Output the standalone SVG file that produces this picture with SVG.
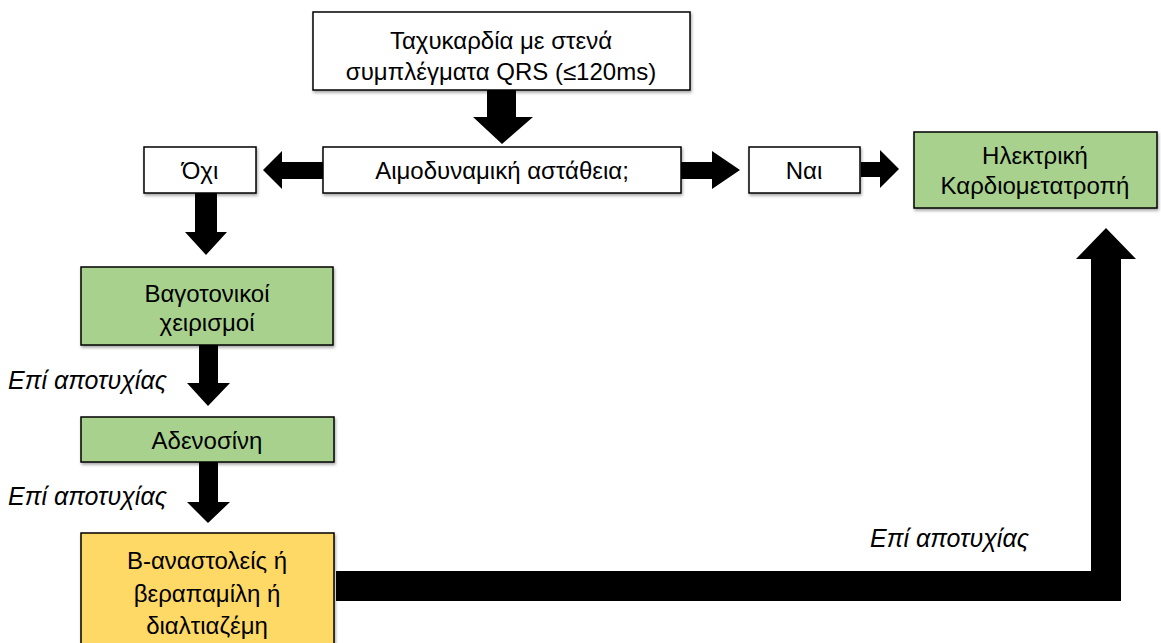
<svg xmlns="http://www.w3.org/2000/svg" width="1161" height="643" viewBox="0 0 1161 643">
<style>
.box{stroke:#000;stroke-width:1.5;filter:url(#sh)}
.w{fill:#fff}.g{fill:#a9d18e}.y{fill:#ffd966}
text{font-family:"Liberation Sans",Arial,sans-serif;font-size:24px;fill:#000;text-anchor:middle;dominant-baseline:central}
.it{font-style:italic;text-anchor:start;font-size:25px}
.arr{fill:#000}
</style>
<defs>
<filter id="sh" x="-10%" y="-10%" width="120%" height="130%">
<feDropShadow dx="1" dy="2" stdDeviation="1.5" flood-color="#000" flood-opacity="0.35"/>
</filter>
</defs>
<rect width="1161" height="643" fill="#fff"/>
<g id="connectors">
<polygon class="arr" points="487,90 516,90 516,117 533,117 502,144 473,117 487,117"/>
<polygon class="arr" points="323,162 282,162 282,151 263,170 282,189 282,179 323,179"/>
<polygon class="arr" points="681,162 712,162 712,151 740,170 712,189 712,179 681,179"/>
<polygon class="arr" points="861,162 880,162 880,150 899,169 880,188 880,177 861,177"/>
<polygon class="arr" points="195,193 217,193 217,232 227,232 206,255 185,232 195,232"/>
<polygon class="arr" points="199,345 218,345 218,383 230,383 208,406 187,383 199,383"/>
<polygon class="arr" points="199,462 218,462 218,502 230,502 208,523 187,502 199,502"/>
<polygon class="arr" points="336,571 1091,571 1091,259 1076,259 1106,228 1136,259 1121,259 1121,601 336,601"/>
<text class="it" x="8" y="380">Επί αποτυχίας</text>
<text class="it" x="8" y="496">Επί αποτυχίας</text>
<text class="it" x="870" y="538">Επί αποτυχίας</text>
</g>
<g id="n-tachy"><rect class="box w" x="313" y="12" width="377" height="78"/>
<text x="501" y="40">Ταχυκαρδία με στενά</text><text x="501" y="71">συμπλέγματα QRS (≤120ms)</text></g>
<g id="n-aimo"><rect class="box w" x="323" y="147" width="358" height="46"/><text x="502" y="170">Αιμοδυναμική αστάθεια;</text></g>
<g id="n-oxi"><rect class="box w" x="144" y="147" width="112" height="46"/><text x="200" y="170">Όχι</text></g>
<g id="n-nai"><rect class="box w" x="749" y="147" width="111" height="46"/><text x="804" y="170">Ναι</text></g>
<g id="n-ilek"><rect class="box g" x="914" y="132" width="243" height="76"/>
<text x="1035" y="155">Ηλεκτρική</text><text x="1035" y="185">Καρδιομετατροπή</text></g>
<g id="n-vago"><rect class="box g" x="81" y="267" width="252" height="78"/>
<text x="207" y="293">Βαγοτονικοί</text><text x="207" y="322">χειρισμοί</text></g>
<g id="n-aden"><rect class="box g" x="81" y="417" width="253" height="45"/><text x="207" y="440">Αδενοσίνη</text></g>
<g id="n-beta"><rect class="box y" x="81" y="533" width="253" height="120"/>
<text x="207" y="560">Β-αναστολείς ή</text><text x="207" y="593">βεραπαμίλη ή</text><text x="207" y="625">διαλτιαζέμη</text></g>
</svg>
